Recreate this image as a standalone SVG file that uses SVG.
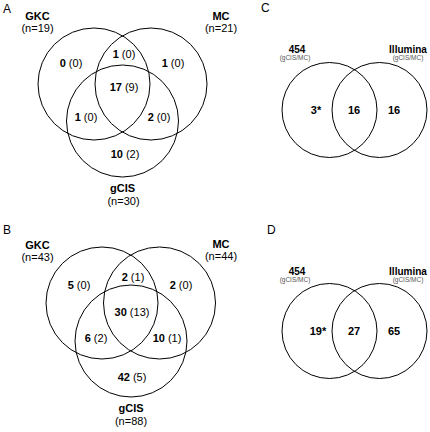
<svg xmlns="http://www.w3.org/2000/svg" width="430" height="432" viewBox="0 0 430 432">
<style>
text{font-family:"Liberation Sans",Arial,sans-serif;fill:#000}
.panel{font-size:12px}
.lab{font-size:11px;font-weight:bold;text-anchor:middle}
.n{font-size:11px;text-anchor:middle}
.r{font-size:11px;text-anchor:middle}
.r .b{font-weight:bold}
.lab2{font-size:10px;font-weight:bold;text-anchor:middle}
.sub{font-size:6.5px;fill:#555;text-anchor:middle}
.c{font-size:11px;font-weight:bold;text-anchor:middle}
circle{fill:none;stroke:#000;stroke-width:1}
</style>
<rect width="430" height="432" fill="#fff"/>
<g id="panelA">
<text class="panel" x="3" y="13">A</text>
<g id="A-GKC"><circle cx="94" cy="84" r="56"/><text class="lab" x="37.5" y="20">GKC</text><text class="n" x="37.5" y="32">(n=19)</text></g>
<g id="A-MC"><circle cx="151" cy="84" r="56"/><text class="lab" x="221" y="20">MC</text><text class="n" x="221" y="32">(n=21)</text></g>
<g id="A-gCIS"><circle cx="122.5" cy="121" r="56"/><text class="lab" x="122.5" y="192">gCIS</text><text class="n" x="123.5" y="205">(n=30)</text></g>
<g id="A-regions">
<text class="r" x="71" y="67"><tspan class="b">0</tspan> (0)</text>
<text class="r" x="124" y="58"><tspan class="b">1</tspan> (0)</text>
<text class="r" x="173" y="67"><tspan class="b">1</tspan> (0)</text>
<text class="r" x="124" y="91"><tspan class="b">17</tspan><tspan dx="3">(9)</tspan></text>
<text class="r" x="86" y="121"><tspan class="b">1</tspan> (0)</text>
<text class="r" x="159" y="121"><tspan class="b">2</tspan> (0)</text>
<text class="r" x="125" y="158"><tspan class="b">10</tspan> (2)</text>
</g>
</g>
<g id="panelB">
<text class="panel" x="3" y="234">B</text>
<g id="B-GKC"><circle cx="102" cy="303" r="56"/><text class="lab" x="37.5" y="249">GKC</text><text class="n" x="37.5" y="261">(n=43)</text></g>
<g id="B-MC"><circle cx="159.5" cy="303" r="56"/><text class="lab" x="221" y="248">MC</text><text class="n" x="221" y="260">(n=44)</text></g>
<g id="B-gCIS"><circle cx="131" cy="341" r="56"/><text class="lab" x="131" y="412">gCIS</text><text class="n" x="131" y="425">(n=88)</text></g>
<g id="B-regions">
<text class="r" x="79" y="289"><tspan class="b">5</tspan> (0)</text>
<text class="r" x="133" y="281"><tspan class="b">2</tspan> (1)</text>
<text class="r" x="181" y="289"><tspan class="b">2</tspan> (0)</text>
<text class="r" x="132" y="316"><tspan class="b">30</tspan> (13)</text>
<text class="r" x="96" y="342"><tspan class="b">6</tspan> (2)</text>
<text class="r" x="167" y="342"><tspan class="b">10</tspan> (1)</text>
<text class="r" x="132" y="381"><tspan class="b">42</tspan> (5)</text>
</g>
</g>
<g id="panelC">
<text class="panel" x="261" y="12">C</text>
<g id="C-454"><circle cx="329.5" cy="110" r="47.5"/><text class="lab2" x="297" y="53">454</text><text class="sub" x="295" y="60">(gCIS/MC)</text></g>
<g id="C-Illumina"><circle cx="379.5" cy="110" r="47.5"/><text class="lab2" x="408" y="53">Illumina</text><text class="sub" x="408" y="60">(gCIS/MC)</text></g>
<g id="C-regions">
<text class="c" x="316" y="114">3*</text>
<text class="c" x="354" y="114">16</text>
<text class="c" x="394" y="114">16</text>
</g>
</g>
<g id="panelD">
<text class="panel" x="267" y="234">D</text>
<g id="D-454"><circle cx="329.5" cy="331" r="47.5"/><text class="lab2" x="297" y="275">454</text><text class="sub" x="295" y="282">(gCIS/MC)</text></g>
<g id="D-Illumina"><circle cx="379.5" cy="331" r="47.5"/><text class="lab2" x="408" y="275">Illumina</text><text class="sub" x="408" y="282">(gCIS/MC)</text></g>
<g id="D-regions">
<text class="c" x="318" y="335">19*</text>
<text class="c" x="354" y="335">27</text>
<text class="c" x="394" y="335">65</text>
</g>
</g>
</svg>
